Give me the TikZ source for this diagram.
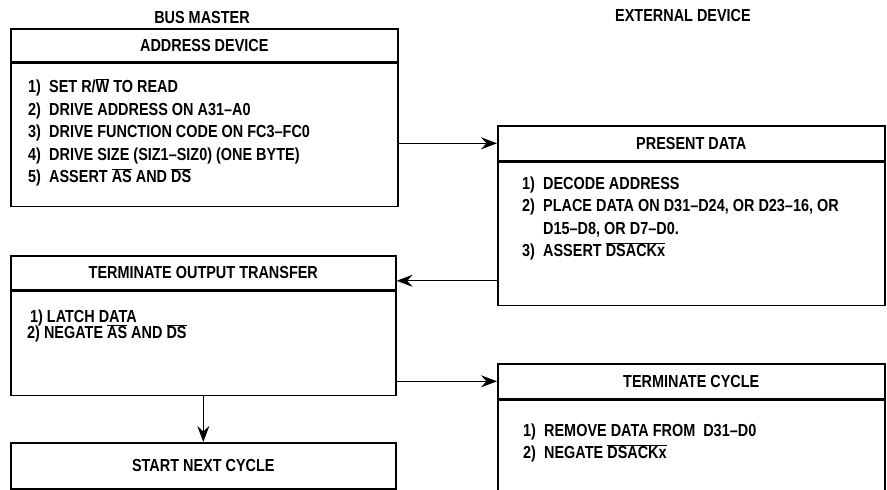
\documentclass[tikz,border=0pt]{standalone}
\usepackage{fontspec}
\setmainfont{Liberation Sans Bold}[FakeStretch=0.83]
\usetikzlibrary{positioning,arrows.meta}
\newcommand{\negsig}[1]{\ensuremath{\overline{\mbox{#1}}}}
\newcommand{\stepno}[1]{\makebox[21pt][l]{#1}}
\newcommand{\cyclefont}{\fontsize{17.4}{22.5}\selectfont}
\newcommand{\latchfont}{\fontsize{17.4}{16.5}\selectfont\lineskiplimit=-20pt\relax}

\begin{document}
\begin{tikzpicture}[
  x=1pt,y=-1pt,
  >=Stealth,
  title/.style={font=\cyclefont,inner sep=0pt},
  head/.style={draw,line width=1.6pt,font=\cyclefont,inner sep=0pt,
               minimum width=387pt,minimum height=34pt,anchor=north west},
  body/.style={draw,line width=1.6pt,inner sep=0pt,minimum width=387pt},
  items/.style={align=left,inner sep=0pt,font=\cyclefont},
  arr/.style={-{Stealth[length=16pt,width=12pt,inset=5.5pt]},line width=1.3pt},
]
  \useasboundingbox (0,0) rectangle (887,490);
  \clip (0,0) rectangle (887,490);

  \node[title] (master) at (202,18) {BUS MASTER};
  \node[title] (slave)  at (683,16) {EXTERNAL DEVICE};

  % bus master side
  \node[head,minimum height=33pt] (addrhead) at (10,28) {ADDRESS DEVICE};
  \node[body,minimum height=143pt,below=0pt of addrhead] (addrbody) {};
  \node[items,below right=16pt and 18pt of addrbody.north west] (addritems)
    {\stepno{1)}SET R/\negsig{W} TO READ\\
     \stepno{2)}DRIVE ADDRESS ON A31--A0\\
     \stepno{3)}DRIVE FUNCTION CODE ON FC3--FC0\\
     \stepno{4)}DRIVE SIZE (SIZ1--SIZ0) (ONE BYTE)\\
     \stepno{5)}ASSERT \negsig{AS} AND \negsig{DS}};

  \node[head,minimum width=385pt] (tothead) at (10,255) {TERMINATE OUTPUT TRANSFER};
  \node[body,minimum width=385pt,minimum height=104pt,below=0pt of tothead] (totbody) {};
  \node[items,font=\latchfont,
        below right=19pt and 17pt of totbody.north west] (totitems)
    {\,1) LATCH DATA\\
     2) NEGATE \negsig{AS} AND \negsig{DS}};

  \node[head,minimum width=385pt,minimum height=46pt] (start) at (10,442) {START NEXT CYCLE};

  % external device side
  \node[head,minimum height=35pt] (presenthead) at (497,125) {PRESENT DATA};
  \node[body,minimum height=143pt,below=0pt of presenthead] (presentbody) {};
  \node[items,below right=15pt and 25pt of presentbody.north west] (presentitems)
    {\stepno{1)}DECODE ADDRESS\\
     \stepno{2)}PLACE DATA ON D31--D24, OR D23--16, OR\\
     \stepno{}D15--D8, OR D7--D0.\\
     \stepno{3)}ASSERT \negsig{DSACKx}};

  \node[head,minimum height=35pt] (termhead) at (497,363) {TERMINATE CYCLE};
  \node[body,minimum height=150pt,below=0pt of termhead] (termbody) {};
  \node[items,below right=24pt and 26pt of termbody.north west] (termitems)
    {\stepno{1)}REMOVE DATA FROM\ \ D31--D0\\
     \stepno{2)}NEGATE \negsig{DSACKx}};

  \coordinate (ackin) at ([yshift=-8pt]tothead.east);

  \draw[arr] (addrbody.east |- presenthead.west) -- (presenthead.west);
  \draw[arr] (presentbody.west |- ackin) -- (ackin);
  \draw[arr] (totbody.east |- termhead.west) -- (termhead.west);
  \draw[arr] (totbody.south) -- (start.north);
\end{tikzpicture}
\end{document}
